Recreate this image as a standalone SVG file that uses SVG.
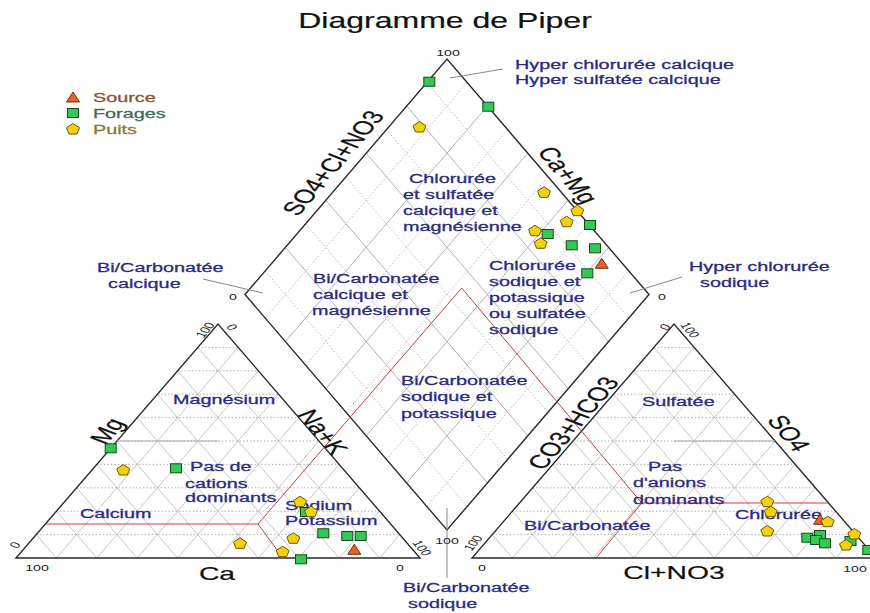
<svg xmlns="http://www.w3.org/2000/svg" xmlns:xlink="http://www.w3.org/1999/xlink" width="870" height="613" viewBox="0 0 870 613">
<style>
text { font-family: "Liberation Sans", Arial, sans-serif; }
.reg { font-size: 13.3px; fill: #2b2b7e; stroke: #2b2b7e; stroke-width: 0.3; }
.ax { font-size: 19px; fill: #111; stroke: #111; stroke-width: 0.2; }
.num { font-size: 9.5px; fill: #222; }
.title { font-size: 21.5px; fill: #111; stroke: #111; stroke-width: 0.2; }
.gh { stroke: #9a9a9a; stroke-width: 0.8; stroke-dasharray: 1.5 2; fill: none; }
.gd { stroke: #b8b8b8; stroke-width: 0.8; fill: none; }
.ds { stroke: #a0a0a0; stroke-width: 0.8; fill: none; }
.dd { stroke: #aaaaaa; stroke-width: 0.8; stroke-dasharray: 1.5 2; fill: none; }
.frame { stroke: #2a2a2a; stroke-width: 1.4; fill: none; }
.mid { stroke: #aaa; stroke-width: 1; fill: none; }
.red { stroke: #cc4040; stroke-width: 1; fill: none; }
.lead { stroke: #888; stroke-width: 1; fill: none; }
.pu { fill: #f3d20c; stroke: #6b5a00; stroke-width: 1; }
.fo { fill: #34c955; stroke: #124a1c; stroke-width: 1; }
.so { fill: #e8602a; stroke: #7a2a0a; stroke-width: 1; }
</style>
<defs>
<polygon id="pt" class="pu" points="0,-5.5 6.5,-1.2 4,5 -4,5 -6.5,-1.2"/>
<rect id="sq" class="fo" x="-5.5" y="-4.5" width="11" height="9"/>
<polygon id="tr" class="so" points="0,-5 6.5,5 -6.5,5"/>
<g id="trigrid">
<path class="gh" d="M36.2 534.6H399.8M56.4 511.2H379.6M76.6 487.8H359.4M96.8 464.4H339.2M117 441H319M137.2 417.6H298.8M157.4 394.2H278.6M177.6 370.8H258.4M197.8 347.4H238.2"/>
<path class="gd" d="M56.4 558L238.2 347.4M96.8 558L258.4 370.8M137.2 558L278.6 394.2M177.6 558L298.8 417.6M218 558L319 441M258.4 558L339.2 464.4M298.8 558L359.4 487.8M339.2 558L379.6 511.2M379.6 558L399.8 534.6M56.4 558L36.2 534.6M96.8 558L56.4 511.2M137.2 558L76.6 487.8M177.6 558L96.8 464.4M218 558L117 441M258.4 558L137.2 417.6M298.8 558L157.4 394.2M339.2 558L177.6 370.8M379.6 558L197.8 347.4"/>
<path class="frame" d="M16 558L420 558L218 324Z"/>
</g>
</defs>
<rect width="870" height="613" fill="#fff"/>

<g id="title"><text class="title" text-anchor="middle" transform="translate(445,28) scale(1.49,1)">Diagramme de Piper</text></g>

<g id="legend">
<use xlink:href="#tr" x="73" y="97"/>
<use xlink:href="#sq" x="73" y="113"/>
<use xlink:href="#pt" x="73" y="129"/>
<text class="reg" style="fill:#8a5234;stroke:#8a5234" transform="translate(93,102) scale(1.49,1)">Source</text>
<text class="reg" style="fill:#3d6b58;stroke:#3d6b58" transform="translate(93,118) scale(1.49,1)">Forages</text>
<text class="reg" style="fill:#8c7a2c;stroke:#8c7a2c" transform="translate(93,134) scale(1.49,1)">Puits</text>
</g>

<g id="diamond">
<path class="dd" d="M265.2 270.95L467.2 506.45M305.6 223.85L507.6 459.35M346 176.75L548 412.25M386.4 129.65L588.4 365.15M426.8 82.55L628.8 318.05M265.2 318.05L467.2 82.55M305.6 365.15L507.6 129.65M346 412.25L548 176.75M386.4 459.35L588.4 223.85M426.8 506.45L628.8 270.95"/>
<path class="ds" d="M285.4 247.4L487.4 482.9M325.8 200.3L527.8 435.8M366.2 153.2L568.2 388.7M406.6 106.1L608.6 341.6M285.4 341.6L487.4 106.1M325.8 388.7L527.8 153.2M366.2 435.8L568.2 200.3M406.6 482.9L608.6 247.4"/>
<path class="frame" d="M245 294.5L447 59L649 294.5L447 530Z"/>
</g>

<g id="cation-triangle">
<use xlink:href="#trigrid"/>
<path class="mid" d="M117 441H218"/>
</g>

<g id="anion-triangle">
<use xlink:href="#trigrid" transform="translate(456,0)"/>
<path class="mid" d="M674 441H775"/>
</g>

<g id="classes">
<path class="red" d="M45.4 524H258L461.7 288L641.7 503H828M258 524L283 558M641.7 503L596 558"/>
</g>

<g id="connectors">
<path class="lead" d="M450 78L503 69M203 279L263 293M682 277L630 293M447 508V578"/>
</g>

<g id="axis-labels">
<text class="ax" text-anchor="middle" dy="0.35em" transform="translate(333,163) scale(1.49,1) rotate(-60)">SO4+Cl+NO3</text>
<text class="ax" text-anchor="middle" dy="0.35em" transform="translate(568,175) scale(1.49,1) rotate(60)">Ca+Mg</text>
<text class="ax" text-anchor="middle" dy="0.35em" transform="translate(107,431) scale(1.49,1) rotate(-60)">Mg</text>
<text class="ax" text-anchor="middle" dy="0.35em" transform="translate(323,432) scale(1.49,1) rotate(60)">Na+K</text>
<text class="ax" text-anchor="middle" dy="0.35em" transform="translate(573,423) scale(1.49,1) rotate(-60)">CO3+HCO3</text>
<text class="ax" text-anchor="middle" dy="0.35em" transform="translate(789,433) scale(1.49,1) rotate(60)">SO4</text>
<text class="ax" text-anchor="middle" transform="translate(217,580) scale(1.49,1)">Ca</text>
<text class="ax" text-anchor="middle" transform="translate(674,579) scale(1.49,1)">Cl+NO3</text>
</g>

<g id="ticks">
<text class="num" text-anchor="middle" transform="translate(448,56) scale(1.49,1)">100</text>
<text class="num" text-anchor="middle" transform="translate(233,300) scale(1.49,1)">0</text>
<text class="num" text-anchor="middle" transform="translate(662,300) scale(1.49,1)">0</text>
<text class="num" text-anchor="middle" transform="translate(447,544) scale(1.49,1)">100</text>
<text class="num" text-anchor="middle" transform="translate(37,571) scale(1.49,1)">100</text>
<text class="num" text-anchor="middle" transform="translate(400,571) scale(1.49,1)">0</text>
<text class="num" text-anchor="middle" transform="translate(482,571) scale(1.49,1)">0</text>
<text class="num" text-anchor="middle" transform="translate(855,572) scale(1.49,1)">100</text>
<text class="num" text-anchor="middle" dy="0.35em" transform="translate(205,330) scale(1.49,1) rotate(-60)">100</text>
<text class="num" text-anchor="middle" dy="0.35em" transform="translate(232,327) scale(1.49,1) rotate(60)">0</text>
<text class="num" text-anchor="middle" dy="0.35em" transform="translate(15,545) scale(1.49,1) rotate(-60)">0</text>
<text class="num" text-anchor="middle" dy="0.35em" transform="translate(422,548) scale(1.49,1) rotate(60)">100</text>
<text class="num" text-anchor="middle" dy="0.35em" transform="translate(473,543) scale(1.49,1) rotate(-60)">100</text>
<text class="num" text-anchor="middle" dy="0.35em" transform="translate(665,327) scale(1.49,1) rotate(-60)">0</text>
<text class="num" text-anchor="middle" dy="0.35em" transform="translate(690,330) scale(1.49,1) rotate(60)">100</text>
</g>

<g id="region-labels">
<text class="reg" transform="translate(515,69) scale(1.49,1)">Hyper chlorurée calcique</text>
<text class="reg" transform="translate(515,84) scale(1.49,1)">Hyper sulfatée calcique</text>
<text class="reg" transform="translate(409,183) scale(1.49,1)">Chlorurée</text>
<text class="reg" transform="translate(403,199) scale(1.49,1)">et sulfatée</text>
<text class="reg" transform="translate(403,215) scale(1.49,1)">calcique et</text>
<text class="reg" transform="translate(403,231) scale(1.49,1)">magnésienne</text>
<text class="reg" transform="translate(313,283) scale(1.49,1)">Bi/Carbonatée</text>
<text class="reg" transform="translate(313,299) scale(1.49,1)">calcique et</text>
<text class="reg" transform="translate(312,315) scale(1.49,1)">magnésienne</text>
<text class="reg" transform="translate(489,270) scale(1.49,1)">Chlorurée</text>
<text class="reg" transform="translate(489,286) scale(1.49,1)">sodique et</text>
<text class="reg" transform="translate(489,302) scale(1.49,1)">potassique</text>
<text class="reg" transform="translate(489,318) scale(1.49,1)">ou sulfatée</text>
<text class="reg" transform="translate(489,334) scale(1.49,1)">sodique</text>
<text class="reg" transform="translate(401,385) scale(1.49,1)">Bi/Carbonatée</text>
<text class="reg" transform="translate(401,401) scale(1.49,1)">sodique et</text>
<text class="reg" transform="translate(401,418) scale(1.49,1)">potassique</text>
<text class="reg" transform="translate(97,272) scale(1.49,1)">Bi/Carbonatée</text>
<text class="reg" transform="translate(108,288) scale(1.49,1)">calcique</text>
<text class="reg" transform="translate(689,271) scale(1.49,1)">Hyper chlorurée</text>
<text class="reg" transform="translate(700,287) scale(1.49,1)">sodique</text>
<text class="reg" transform="translate(403,592) scale(1.49,1)">Bi/Carbonatée</text>
<text class="reg" transform="translate(408,608) scale(1.49,1)">sodique</text>
<text class="reg" transform="translate(173,404) scale(1.49,1)">Magnésium</text>
<text class="reg" transform="translate(190,471) scale(1.49,1)">Pas de</text>
<text class="reg" transform="translate(185,488) scale(1.49,1)">cations</text>
<text class="reg" transform="translate(185,502) scale(1.49,1)">dominants</text>
<text class="reg" transform="translate(80,518) scale(1.49,1)">Calcium</text>
<text class="reg" transform="translate(285,510) scale(1.49,1)">Sodium</text>
<text class="reg" transform="translate(285,525) scale(1.49,1)">Potassium</text>
<text class="reg" transform="translate(642,406) scale(1.49,1)">Sulfatée</text>
<text class="reg" transform="translate(648,471) scale(1.49,1)">Pas</text>
<text class="reg" transform="translate(633,487) scale(1.49,1)">d'anions</text>
<text class="reg" transform="translate(633,504) scale(1.49,1)">dominants</text>
<text class="reg" transform="translate(735,519) scale(1.49,1)">Chlorurée</text>
<text class="reg" transform="translate(524,530) scale(1.49,1)">Bi/Carbonatée</text>
</g>

<g id="samples">
<use xlink:href="#sq" x="429.3" y="81.7"/>
<use xlink:href="#sq" x="488.3" y="106.7"/>
<use xlink:href="#pt" x="419.5" y="127"/>
<use xlink:href="#pt" x="544" y="192.3"/>
<use xlink:href="#pt" x="577.3" y="210.7"/>
<use xlink:href="#pt" x="566.7" y="221.7"/>
<use xlink:href="#sq" x="590" y="225"/>
<use xlink:href="#pt" x="535" y="230.7"/>
<use xlink:href="#sq" x="547.7" y="234"/>
<use xlink:href="#pt" x="540.7" y="243.3"/>
<use xlink:href="#sq" x="571.7" y="245.3"/>
<use xlink:href="#sq" x="595" y="248.3"/>
<use xlink:href="#tr" x="601.7" y="263.3"/>
<use xlink:href="#sq" x="587.3" y="273.3"/>

<use xlink:href="#sq" x="110.7" y="448.3"/>
<use xlink:href="#pt" x="123.3" y="470"/>
<use xlink:href="#sq" x="176" y="468.3"/>
<use xlink:href="#sq" x="306" y="512"/>
<use xlink:href="#pt" x="300" y="501.7"/>
<use xlink:href="#pt" x="311" y="511.7"/>
<use xlink:href="#sq" x="323.3" y="533.3"/>
<use xlink:href="#sq" x="347.3" y="536"/>
<use xlink:href="#sq" x="360.7" y="536"/>
<use xlink:href="#pt" x="293.3" y="538.3"/>
<use xlink:href="#pt" x="240" y="543.3"/>
<use xlink:href="#pt" x="282.7" y="551.7"/>
<use xlink:href="#tr" x="354.3" y="549.3"/>
<use xlink:href="#sq" x="301" y="559.3"/>

<use xlink:href="#pt" x="767.3" y="501.7"/>
<use xlink:href="#pt" x="770.7" y="511.7"/>
<use xlink:href="#pt" x="767.3" y="531"/>
<use xlink:href="#tr" x="820" y="519.3"/>
<use xlink:href="#pt" x="827.7" y="521.7"/>
<use xlink:href="#sq" x="807.3" y="537.7"/>
<use xlink:href="#sq" x="820" y="535"/>
<use xlink:href="#sq" x="816" y="540"/>
<use xlink:href="#sq" x="825" y="543.3"/>
<use xlink:href="#sq" x="850.5" y="541"/>
<use xlink:href="#pt" x="854.3" y="534"/>
<use xlink:href="#pt" x="846" y="545"/>
<use xlink:href="#sq" x="868.3" y="550"/>
</g>
</svg>
